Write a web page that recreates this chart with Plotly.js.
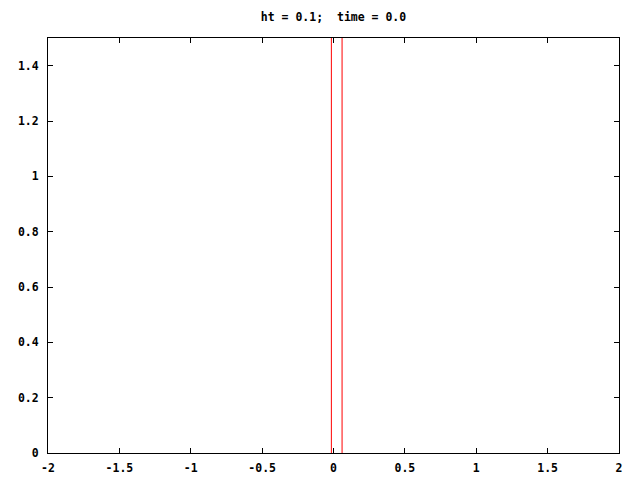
<!DOCTYPE html>
<html><head><meta charset="utf-8">
<script src="https://cdn.plot.ly/plotly-3.0.1.min.js"></script>
<style>html,body{margin:0;padding:0;background:#fff}#c{width:640px;height:480px}</style>
</head><body><div id="c"></div>
<script>
// Visible part of the spike (baseline at 0 lies under the border)
var xs = [-0.015, -0.015, 0.06, 0.06];
var ys = [0, 20, 20, 0];
var xTickVals = [-2, -1.5, -1, -0.5, 0, 0.5, 1, 1.5, 2];
var xTickText = ["-2", "-1.5", "-1", "-0.5", "0", "0.5", "1", "1.5", "2"];
var yTickVals = [0, 0.2, 0.4, 0.6, 0.8, 1, 1.2, 1.4];
var yTickText = ["0", "0.2", "0.4", "0.6", "0.8", "1", "1.2", "1.4"];
var titleText = "ht = 0.1;\u00a0\u00a0time = 0.0";

var font = {family: "DejaVu Sans Mono", size: 11.5, color: "#000"};
var trace = {x: xs, y: ys, mode: "lines", line: {color: "#ff0000", width: 1}, hoverinfo: "skip", showlegend: false};
var axisCommon = {showline: true, linecolor: "#000", linewidth: 1, mirror: "ticks", ticks: "inside", ticklen: 5, tickcolor: "#000", tickwidth: 1, showgrid: false, zeroline: false, layer: "above traces", tickmode: "array", tickfont: {family: "DejaVu Sans Mono", size: 11.5, color: "#000", weight: "bold"}};
var layout = {
  width: 640, height: 480,
  margin: {l: 48, r: 21, t: 38, b: 27, pad: 0},
  paper_bgcolor: "#fff", plot_bgcolor: "#fff",
  font: font,
  title: {text: "<b>" + titleText + "</b>", xref: "paper", x: 0.5, xanchor: "center", yref: "container", y: 1, yanchor: "top", pad: {t: 13}, font: {family: "DejaVu Sans Mono", size: 11.5, color: "#000"}},
  xaxis: Object.assign({}, axisCommon, {range: [-2, 2], tickvals: xTickVals, ticktext: xTickText, ticklabelstandoff: 4}),
  yaxis: Object.assign({}, axisCommon, {range: [0, 1.5], tickvals: yTickVals, ticktext: yTickText, ticklabelstandoff: 6})
};
Plotly.newPlot("c", [trace], layout, {staticPlot: true, displayModeBar: false});
</script>
</body></html>
